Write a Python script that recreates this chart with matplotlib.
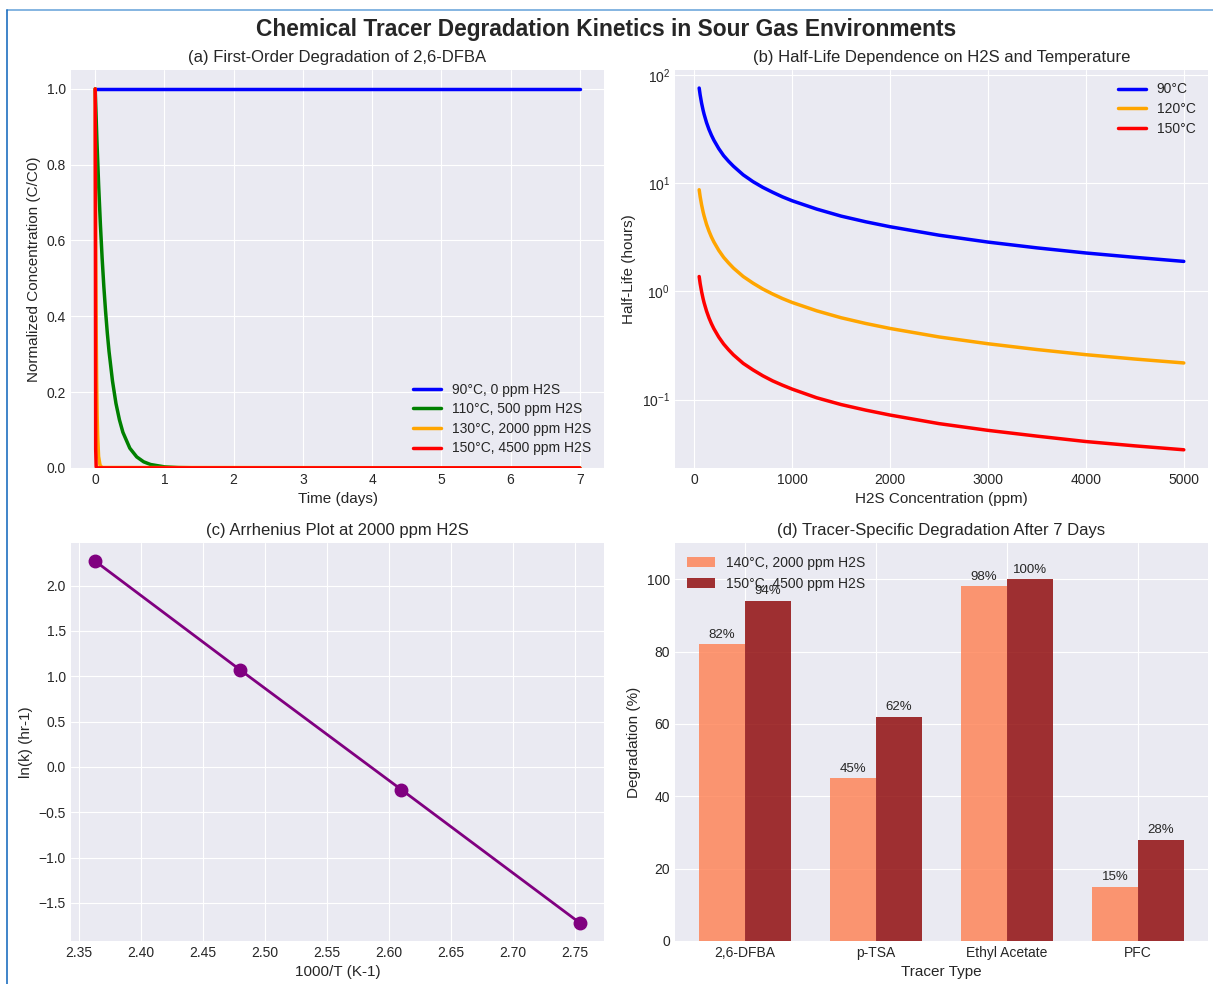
import numpy as np
import matplotlib.pyplot as plt
from matplotlib.lines import Line2D

plt.style.use('seaborn-v0_8-darkgrid')
plt.rcParams['font.family'] = ['Liberation Sans', 'DejaVu Sans']

# (a) concentration curves
t_90 = [0, 7]
c_90 = [1.0, 1.0]
t_110 = [0, 0.025, 0.05, 0.075, 0.1, 0.125, 0.15, 0.175, 0.2, 0.25, 0.3, 0.35, 0.4,
         0.5, 0.6, 0.7, 0.8, 1.0, 1.2, 1.5, 2.0, 7.0]
c_110 = [1.0, 0.863, 0.745, 0.643, 0.554, 0.478, 0.413, 0.356, 0.307, 0.229, 0.170, 0.127,
         0.094, 0.052, 0.029, 0.016, 0.0089, 0.0027, 0.0008, 0.0001, 0.0, 0.0]
t_130 = [0, 0.007, 0.014, 0.021, 0.028, 0.035, 0.049, 0.07, 0.1, 7.0]
c_130 = [1.0, 0.61, 0.37, 0.23, 0.14, 0.086, 0.03, 0.007, 0.001, 0.0]
t_150 = [0, 0.007, 0.014, 0.021, 7.0]
c_150 = [1.0, 0.05, 0.003, 0.0, 0.0]
labels_a = ['90°C, 0 ppm H2S', '110°C, 500 ppm H2S', '130°C, 2000 ppm H2S', '150°C, 4500 ppm H2S']

# (b) half-life vs H2S
h2s = [50, 60, 75, 90, 100, 125, 150, 175, 200, 250, 300, 350, 400, 500, 600, 700, 800,
       900, 1000, 1250, 1500, 1750, 2000, 2500, 3000, 3500, 4000, 4500, 5000]
hl_90 = [75.4, 65.1, 54.5, 47.1, 43.3, 36.2, 31.3, 27.7, 24.9, 20.8, 17.9, 15.9, 14.3,
         11.9, 10.3, 9.12, 8.22, 7.46, 6.86, 5.75, 4.95, 4.39, 3.95, 3.30, 2.85, 2.52,
         2.26, 2.06, 1.89]
hl_120 = [8.67, 7.49, 6.27, 5.42, 4.98, 4.16, 3.60, 3.18, 2.86, 2.39, 2.06, 1.83, 1.64,
          1.37, 1.19, 1.05, 0.945, 0.858, 0.789, 0.661, 0.570, 0.505, 0.454, 0.379, 0.328,
          0.290, 0.260, 0.237, 0.218]
hl_150 = [1.37, 1.18, 0.99, 0.856, 0.786, 0.658, 0.569, 0.503, 0.452, 0.378, 0.326, 0.289,
          0.259, 0.216, 0.188, 0.166, 0.149, 0.136, 0.125, 0.104, 0.090, 0.080, 0.072,
          0.060, 0.052, 0.046, 0.041, 0.0374, 0.0344]

# (c) Arrhenius
inv_T = [2.754, 2.610, 2.480, 2.363]
ln_k = [-1.72, -0.25, 1.07, 2.27]

# (d) degradation after 7 days
tracers = ['2,6-DFBA', 'p-TSA', 'Ethyl Acetate', 'PFC']
deg_140 = [82, 45, 98, 15]
deg_150 = [94, 62, 100, 28]

fig, axes = plt.subplots(2, 2, figsize=(12.13, 9.84), dpi=100)
fig.subplots_adjust(left=0.0585, right=0.9959, top=0.9289, bottom=0.0437,
                    wspace=0.133, hspace=0.189)
fig.suptitle('Chemical Tracer Degradation Kinetics in Sour Gas Environments',
             fontsize=16.4, fontweight='bold', y=0.982)

# (a)
ax = axes[0, 0]
ax.plot(t_90, c_90, color='blue', lw=2.5, label=labels_a[0])
ax.plot(t_110, c_110, color='green', lw=2.5, label=labels_a[1])
ax.plot(t_130, c_130, color='orange', lw=2.5, label=labels_a[2])
ax.plot(t_150, c_150, color='red', lw=2.5, label=labels_a[3])
ax.set_ylim(0, 1.05)
ax.set_xlabel('Time (days)', fontsize=11)
ax.set_ylabel('Normalized Concentration (C/C0)', fontsize=11)
ax.set_title('(a) First-Order Degradation of 2,6-DFBA', fontsize=12)
ax.legend(loc='lower right', fontsize=10, labelspacing=0.4)

# (b)
ax = axes[0, 1]
ax.semilogy(h2s, hl_90, color='blue', lw=2.5, label='90°C')
ax.semilogy(h2s, hl_120, color='orange', lw=2.5, label='120°C')
ax.semilogy(h2s, hl_150, color='red', lw=2.5, label='150°C')
ax.set_xlabel('H2S Concentration (ppm)', fontsize=11)
ax.set_ylabel('Half-Life (hours)', fontsize=11)
ax.set_title('(b) Half-Life Dependence on H2S and Temperature', fontsize=12)
ax.legend(loc='upper right', fontsize=10, labelspacing=0.4)

# (c)
ax = axes[1, 0]
ax.plot(inv_T, ln_k, 'o-', color='purple', lw=2, markersize=9)
ax.set_xlabel('1000/T (K-1)', fontsize=11)
ax.set_ylabel('ln(k) (hr-1)', fontsize=11)
ax.set_title('(c) Arrhenius Plot at 2000 ppm H2S', fontsize=12)

# (d)
ax = axes[1, 1]
x = np.arange(len(tracers))
w = 0.35
b1 = ax.bar(x - w / 2, deg_140, w, color='coral', alpha=0.8, label='140°C, 2000 ppm H2S')
b2 = ax.bar(x + w / 2, deg_150, w, color='darkred', alpha=0.8, label='150°C, 4500 ppm H2S')
for bars in (b1, b2):
    for bar in bars:
        h = bar.get_height()
        ax.text(bar.get_x() + bar.get_width() / 2, h + 1, f'{h:.0f}%',
                ha='center', va='bottom', fontsize=9.5)
ax.set_xticks(x)
ax.set_xticklabels(tracers)
ax.set_ylim(0, 110)
ax.set_xlabel('Tracer Type', fontsize=11)
ax.set_ylabel('Degradation (%)', fontsize=11)
ax.set_title('(d) Tracer-Specific Degradation After 7 Days', fontsize=12)
ax.legend(loc='upper left', fontsize=10)

for a in axes.flat:
    a.tick_params(labelsize=10)

# thin frame of the original screenshot
fig.add_artist(Line2D([7 / 1213, 1], [1 - 10 / 984, 1 - 10 / 984], color='#6fa8dc', lw=1.2))
fig.add_artist(Line2D([7 / 1213, 7 / 1213], [0, 1 - 10 / 984], color='#1f6fc0', lw=1.2))

fig.savefig('out.png', dpi=100)
